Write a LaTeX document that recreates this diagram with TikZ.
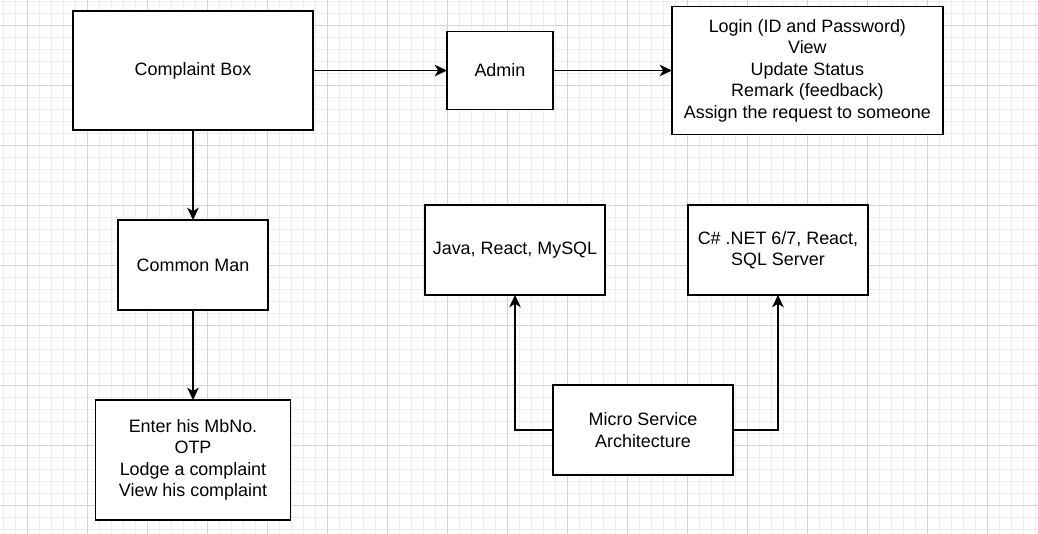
\documentclass[tikz,border=0pt]{standalone}
\usepackage{fontspec}
\setmainfont{Liberation Sans}
\usetikzlibrary{positioning,arrows.meta}

\begin{document}
\begin{tikzpicture}[x=0.02cm, y=-0.02cm, line width=0.85pt,
    main/.style = {draw, rectangle, fill=white, outer sep=0pt, align=center, font=\fontsize{10.2pt}{12.2pt}\selectfont},
    arr/.style = {-{Stealth[length=7pt, width=6.6pt, inset=2pt]}},
    minorline/.style = {draw=black!7, line width=0.5pt},
    majorline/.style = {draw=black!17, line width=0.5pt}
    ]
\useasboundingbox (0,0) rectangle (1038,534);
\fill[white] (0,0) rectangle (1038,534);

% background grid
\foreach \x in {3,15,...,1035} \draw[minorline] (\x,0) -- (\x,534);
\foreach \y in {1,13,...,533} \draw[minorline] (0,\y) -- (1038,\y);
\foreach \x in {27,87,...,987} \draw[majorline] (\x,0) -- (\x,534);
\foreach \y in {25,85,...,505} \draw[majorline] (0,\y) -- (1038,\y);

\node[main, minimum width=4.8cm, minimum height=2.38cm] (0) at (193,70.5) {Complaint Box};
\node[main, minimum width=2.12cm, minimum height=1.56cm] (1) [right=2.68cm of 0] {Admin};
\node[main, minimum width=5.42cm, minimum height=2.56cm] (2) [right=2.38cm of 1] {Login (ID and Password)\\View\\Update Status\\Remark (feedback)\\Assign the request to someone};
\node[main, minimum width=3cm, minimum height=1.8cm] (3) [below=1.8cm of 0] {Common Man};
\node[main, minimum width=3.9cm, minimum height=2.4cm] (4) [below=1.8cm of 3] {Enter his MbNo.\\OTP\\Lodge a complaint\\View his complaint};
\node[main, minimum width=3.6cm, minimum height=1.8cm] (5) at (515,250) {Java, React, MySQL};
\node[main, minimum width=3.6cm, minimum height=1.8cm] (6) [right=1.66cm of 5] {C\# .NET 6/7, React,\\SQL Server};
\node[main, minimum width=3.6cm, minimum height=1.8cm] (7) [below right=1.8cm and -1.04cm of 5] {Micro Service\\Architecture};

\draw[arr] (0) -- (1);
\draw[arr] (1) -- (2);
\draw[arr] (0) -- (3);
\draw[arr] (3) -- (4);
\draw[arr] (7) -| (5);
\draw[arr] (7) -| (6);

\end{tikzpicture}
\end{document}
